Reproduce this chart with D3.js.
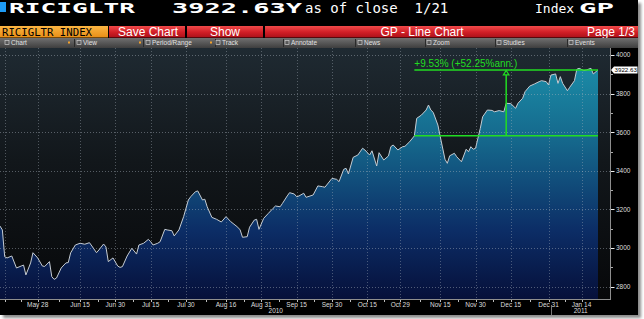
<html>
<head>
  <script type="text/javascript" src="https://cdn.jsdelivr.net/npm/d3@7"></script>
  <style>
  body { margin: 0; background: #fff; }
  svg { display: block; }
  </style>
</head>
<body>

<script type="text/javascript">
// RICIGLTR index close
var closes = [
  ["2010-05-12",3114],["2010-05-13",3094],["2010-05-14",2955],["2010-05-15",2949],["2010-05-17",2959],
  ["2010-05-19",2897],["2010-05-21",2907],["2010-05-22",2912],["2010-05-23",2861],["2010-05-25",2923],
  ["2010-05-26",2976],["2010-05-28",2949],["2010-05-30",2907],["2010-05-31",2905],["2010-06-02",2930],
  ["2010-06-03",2852],["2010-06-04",2838],["2010-06-05",2845],["2010-06-07",2897],["2010-06-09",2923],
  ["2010-06-10",2925],["2010-06-11",2975],["2010-06-13",3016],["2010-06-15",3025],["2010-06-17",3020],
  ["2010-06-19",3028],["2010-06-20",3011],["2010-06-22",2976],["2010-06-23",2990],["2010-06-25",3021],
  ["2010-06-26",3006],["2010-06-27",2930],["2010-06-29",2949],["2010-07-01",2907],["2010-07-02",2900],
  ["2010-07-03",2904],["2010-07-05",2959],["2010-07-07",2999],["2010-07-09",2969],["2010-07-10",3016],
  ["2010-07-12",3025],["2010-07-14",3045],["2010-07-15",3033],["2010-07-16",3016],["2010-07-18",3025],
  ["2010-07-19",3033],["2010-07-21",3097],["2010-07-22",3094],["2010-07-24",3090],["2010-07-25",3063],
  ["2010-07-27",3094],["2010-07-29",3163],["2010-07-31",3249],["2010-08-01",3266],["2010-08-03",3292],
  ["2010-08-04",3296],["2010-08-06",3249],["2010-08-07",3253],["2010-08-08",3214],["2010-08-10",3159],
  ["2010-08-12",3149],["2010-08-14",3135],["2010-08-16",3163],["2010-08-18",3137],["2010-08-21",3108],
  ["2010-08-22",3094],["2010-08-23",3056],["2010-08-25",3059],["2010-08-26",3108],["2010-08-28",3145],
  ["2010-08-29",3149],["2010-08-30",3097],["2010-09-01",3154],["2010-09-03",3180],["2010-09-05",3206],
  ["2010-09-06",3218],["2010-09-08",3214],["2010-09-09",3232],["2010-09-11",3270],["2010-09-12",3287],
  ["2010-09-14",3280],["2010-09-15",3266],["2010-09-16",3270],["2010-09-18",3284],["2010-09-19",3263],
  ["2010-09-22",3275],["2010-09-24",3322],["2010-09-26",3318],["2010-09-27",3315],["2010-09-30",3361],
  ["2010-10-02",3356],["2010-10-03",3344],["2010-10-05",3408],["2010-10-06",3413],["2010-10-07",3384],
  ["2010-10-09",3470],["2010-10-11",3482],["2010-10-13",3517],["2010-10-14",3508],["2010-10-16",3482],
  ["2010-10-17",3504],["2010-10-19",3425],["2010-10-20",3494],["2010-10-22",3456],["2010-10-24",3477],
  ["2010-10-25",3525],["2010-10-26",3534],["2010-10-28",3508],["2010-10-30",3525],["2010-10-31",3527],
  ["2010-11-02",3551],["2010-11-04",3581],["2010-11-05",3672],["2010-11-07",3689],["2010-11-09",3715],
  ["2010-11-10",3741],["2010-11-11",3715],["2010-11-12",3703],["2010-11-14",3637],["2010-11-15",3577],
  ["2010-11-17",3460],["2010-11-18",3439],["2010-11-19",3478],["2010-11-21",3491],["2010-11-22",3473],
  ["2010-11-24",3447],["2010-11-26",3512],["2010-11-27",3499],["2010-11-28",3525],["2010-11-29",3512],
  ["2010-11-30",3517],["2010-12-01",3569],["2010-12-02",3620],["2010-12-03",3680],["2010-12-05",3715],
  ["2010-12-07",3713],["2010-12-08",3706],["2010-12-10",3712],["2010-12-12",3706],["2010-12-13",3750],
  ["2010-12-15",3748],["2010-12-17",3724],["2010-12-18",3750],["2010-12-20",3776],["2010-12-21",3810],
  ["2010-12-23",3839],["2010-12-25",3850],["2010-12-27",3862],["2010-12-28",3867],["2010-12-30",3862],
  ["2010-12-31",3845],["2011-01-01",3896],["2011-01-03",3902],["2011-01-04",3853],["2011-01-05",3888],
  ["2011-01-06",3853],["2011-01-08",3815],["2011-01-09",3833],["2011-01-11",3867],["2011-01-12",3926],
  ["2011-01-13",3931],["2011-01-15",3919],["2011-01-16",3922],["2011-01-18",3931],["2011-01-19",3902],
  ["2011-01-21",3922.63]
];

var gridDates = ["2010-05-14","2010-05-28","2010-06-15","2010-06-30","2010-07-15","2010-07-30",
  "2010-08-16","2010-08-31","2010-09-15","2010-09-30","2010-10-15","2010-10-29","2010-11-15",
  "2010-11-30","2010-12-15","2010-12-31","2011-01-14"];
var xTickLabels = ["","May 28","Jun 15","Jun 30","Jul 15","Jul 30","Aug 16","Aug 31","Sep 15",
  "Sep 30","Oct 15","Oct 29","Nov 15","Nov 30","Dec 15","Dec 31","Jan 14"];
var yearLabels = ["2010","2011"];
var yearBreak = "2011-01-01";
var yTicks = [2800, 3000, 3200, 3400, 3600, 3800, 4000];
var yMinorTicks = [2900, 3100, 3300, 3500, 3700, 3900];

var changeDates = ["2010-11-04", "2011-01-21"];
var changeValues = [3581.37, 3922.63];
var changeLabel = "+9.53% (+52.25%ann.)";
var lastLabel = "3922.63";

var toolItems = ["Chart", "View", "Period/Range", "Track", "Annotate", "News", "Zoom", "Studies", "Events"];
var toolX = [11, 83, 152, 222, 291, 364, 433, 503, 575];
var toolSeps = [74, 143, 215, 283, 355, 425, 495, 567];
var toolDots = [68, 139, 210];

var parse = d3.timeParse("%Y-%m-%d");
var data = closes.map(function(d) { return {date: parse(d[0]), value: d[1]}; });

var W = 644, H = 319;
var panelW = 638, panelH = 315;
var plotTop = 48, plotBottom = 299, plotRight = 610;

var svg = d3.select("body").append("svg").attr("width", W).attr("height", H);
var defs = svg.append("defs");

function vGrad(id, y1, y2, stops) {
  var g = defs.append("linearGradient").attr("id", id)
    .attr("gradientUnits", "userSpaceOnUse")
    .attr("x1", 0).attr("x2", 0).attr("y1", y1).attr("y2", y2);
  stops.forEach(function(s) {
    g.append("stop").attr("offset", s[0]).attr("stop-color", s[1]);
  });
}
vGrad("bgGrad", plotTop, plotBottom, [[0, "#1f2a32"], [0.45, "#12171b"], [1, "#07080a"]]);
vGrad("areaGrad", 55, plotBottom, [[0, "#1c91ab"], [0.35, "#15688c"], [0.72, "#0c2d66"], [1, "#06103a"]]);
vGrad("orangeGrad", 26, 38, [[0, "#fbb543"], [1, "#e88d14"]]);
vGrad("redGrad", 26, 38, [[0, "#f04a4a"], [0.5, "#d21f27"], [1, "#a80f18"]]);
vGrad("toolGrad", 38, 48, [[0, "#707070"], [1, "#3e3e3e"]]);

var blur = defs.append("filter").attr("id", "shadow").attr("x", "-5%").attr("y", "-5%")
  .attr("width", "110%").attr("height", "110%");
blur.append("feGaussianBlur").attr("stdDeviation", 1.6);

defs.append("clipPath").attr("id", "plotClip")
  .append("rect").attr("x", 0).attr("y", plotTop).attr("width", plotRight).attr("height", plotBottom - plotTop);

// panel + drop shadow
svg.append("rect").attr("x", 3).attr("y", 3).attr("width", panelW).attr("height", panelH)
  .attr("fill", "#8a8a8a").attr("filter", "url(#shadow)");
svg.append("rect").attr("x", 0).attr("y", 0).attr("width", panelW).attr("height", panelH).attr("fill", "#000");

// title line
svg.append("rect").attr("x", 0).attr("y", 2).attr("width", 6).attr("height", 10).attr("fill", "#1e9bf5");
var mono = "'DejaVu Sans Mono', monospace";
svg.append("text").attr("x", 9).attr("y", 12.5).attr("font-family", mono).attr("font-weight", "bold")
  .attr("font-size", 14).attr("fill", "#fff").attr("textLength", 126).attr("lengthAdjust", "spacingAndGlyphs")
  .text("RICIGLTR");
svg.append("text").attr("x", 172).attr("y", 12.5).attr("font-family", mono).attr("font-weight", "bold")
  .attr("font-size", 14).attr("fill", "#fff").attr("textLength", 130).attr("lengthAdjust", "spacingAndGlyphs")
  .text("3922.63Y");
svg.append("text").attr("x", 305).attr("y", 12.5).attr("font-family", mono)
  .attr("font-size", 14).attr("fill", "#fff").attr("xml:space", "preserve").style("white-space", "pre")
  .text("as of close  1/21");
svg.append("text").attr("x", 535).attr("y", 12.5).attr("font-family", mono)
  .attr("font-size", 13).attr("fill", "#fff").text("Index");
svg.append("text").attr("x", 579).attr("y", 12.5).attr("font-family", mono).attr("font-weight", "bold")
  .attr("font-size", 14).attr("fill", "#fff").attr("textLength", 35).attr("lengthAdjust", "spacingAndGlyphs")
  .text("GP");

// orange / red menu bar
svg.append("rect").attr("x", 0).attr("y", 26).attr("width", 108).attr("height", 11.5).attr("fill", "url(#orangeGrad)");
svg.append("text").attr("x", 2).attr("y", 35.5).attr("font-family", mono).attr("font-size", 11)
  .attr("fill", "#000").attr("textLength", 90).attr("lengthAdjust", "spacingAndGlyphs").text("RICIGLTR INDEX");
var redBoxes = [[109, 185], [187, 263], [265, panelW]];
svg.selectAll("rect.red").data(redBoxes).enter().append("rect").attr("class", "red")
  .attr("x", function(d) { return d[0]; }).attr("y", 26)
  .attr("width", function(d) { return d[1] - d[0]; }).attr("height", 11.5)
  .attr("fill", "url(#redGrad)");
var sans = "'Liberation Sans', Arial, sans-serif";
[["Save Chart", 118, "start"], ["Show", 210, "start"], ["GP - Line Chart", 422, "middle"], ["Page 1/3", 635, "end"]]
  .forEach(function(t) {
    svg.append("text").attr("x", t[1]).attr("y", 35.5).attr("text-anchor", t[2])
      .attr("font-family", sans).attr("font-size", 12).attr("fill", "#fff").text(t[0]);
  });

// toolbar
svg.append("rect").attr("x", 0).attr("y", 38).attr("width", panelW).attr("height", 10).attr("fill", "url(#toolGrad)");
svg.selectAll("line.tsep").data(toolSeps).enter().append("line").attr("class", "tsep")
  .attr("x1", function(d) { return d + 0.5; }).attr("x2", function(d) { return d + 0.5; })
  .attr("y1", 39).attr("y2", 47).attr("stroke", "#2a2a2a");
svg.selectAll("rect.tdot").data(toolDots).enter().append("rect").attr("class", "tdot")
  .attr("x", function(d) { return d; }).attr("y", 41.5).attr("width", 2).attr("height", 2).attr("fill", "#f3a22c");
svg.selectAll("rect.ticon").data(toolX).enter().append("rect").attr("class", "ticon")
  .attr("x", function(d) { return d - 6; }).attr("y", 40.5).attr("width", 4).attr("height", 4)
  .attr("fill", "none").attr("stroke", "#cfcfcf").attr("stroke-width", 0.7);
svg.selectAll("text.tool").data(toolItems).enter().append("text").attr("class", "tool")
  .attr("x", function(d, i) { return toolX[i]; }).attr("y", 45.3)
  .attr("font-family", sans).attr("font-size", 6.5).attr("fill", "#e2e2e2").text(function(d) { return d; });

// scales
var x = d3.scaleTime().domain([parse("2010-05-12"), parse("2011-01-21")]).range([0, 598]);
var y = d3.scaleLinear().domain([2800, 4000]).range([286.7, 55]);

// plot background
svg.append("rect").attr("x", 0).attr("y", plotTop).attr("width", plotRight).attr("height", plotBottom - plotTop)
  .attr("fill", "url(#bgGrad)");

var plot = svg.append("g").attr("clip-path", "url(#plotClip)");

var area = d3.area().x(function(d) { return x(d.date); })
  .y0(plotBottom).y1(function(d) { return y(d.value); });
var line = d3.line().x(function(d) { return x(d.date); }).y(function(d) { return y(d.value); });

plot.append("path").datum(data).attr("d", area).attr("fill", "url(#areaGrad)");
plot.append("path").datum(data).attr("d", line).attr("fill", "none")
  .attr("stroke", "#c5ccd3").attr("stroke-width", 1);

// dotted grid on top
plot.selectAll("line.hgrid").data(yTicks).enter().append("line").attr("class", "hgrid")
  .attr("x1", 0).attr("x2", plotRight)
  .attr("y1", function(d) { return Math.round(y(d)) + 0.5; }).attr("y2", function(d) { return Math.round(y(d)) + 0.5; })
  .attr("stroke", "rgba(170,180,190,0.45)").attr("stroke-dasharray", "1,2");
plot.selectAll("line.vgrid").data(gridDates).enter().append("line").attr("class", "vgrid")
  .attr("x1", function(d) { return Math.round(x(parse(d))) + 0.5; })
  .attr("x2", function(d) { return Math.round(x(parse(d))) + 0.5; })
  .attr("y1", plotTop).attr("y2", plotBottom)
  .attr("stroke", "rgba(170,180,190,0.4)").attr("stroke-dasharray", "1,2");

// % change annotation
var green = "#22dd22";
var ax0 = x(parse(changeDates[0])), ax1 = x(parse(changeDates[1]));
var ay0 = y(changeValues[0]), ay1 = y(changeValues[1]);
var amid = (ax0 + ax1) / 2;
var ann = svg.append("g").attr("stroke", green).attr("stroke-width", 1.5).attr("fill", "none");
ann.append("line").attr("x1", ax0).attr("x2", ax1).attr("y1", ay0).attr("y2", ay0);
ann.append("line").attr("x1", ax0).attr("x2", ax1).attr("y1", ay1).attr("y2", ay1);
ann.append("line").attr("x1", amid).attr("x2", amid).attr("y1", ay0).attr("y2", ay1 + 5);
ann.append("path").attr("stroke-width", 1.2)
  .attr("d", "M" + amid + "," + (ay1 + 0.5) + "L" + (amid - 2.8) + "," + (ay1 + 5) + "L" + (amid + 2.8) + "," + (ay1 + 5) + "Z");
svg.append("text").attr("x", ax0).attr("y", ay1 - 2.5).attr("font-family", sans).attr("font-size", 10)
  .attr("fill", green).text(changeLabel);

// right axis
svg.append("line").attr("x1", plotRight + 0.5).attr("x2", plotRight + 0.5).attr("y1", plotTop).attr("y2", plotBottom)
  .attr("stroke", "#8e8e8e");
svg.selectAll("line.ytick").data(yTicks).enter().append("line").attr("class", "ytick")
  .attr("x1", plotRight + 1).attr("x2", plotRight + 4.5)
  .attr("y1", function(d) { return Math.round(y(d)) + 0.5; }).attr("y2", function(d) { return Math.round(y(d)) + 0.5; })
  .attr("stroke", "#eee");
svg.selectAll("line.ymin").data(yMinorTicks).enter().append("line").attr("class", "ymin")
  .attr("x1", plotRight + 1).attr("x2", plotRight + 3)
  .attr("y1", function(d) { return Math.round(y(d)) + 0.5; }).attr("y2", function(d) { return Math.round(y(d)) + 0.5; })
  .attr("stroke", "#aaa");
svg.selectAll("text.ylab").data(yTicks).enter().append("text").attr("class", "ylab")
  .attr("x", plotRight + 6).attr("y", function(d) { return y(d); }).attr("dy", "0.35em")
  .attr("font-family", sans).attr("font-size", 6.5).attr("fill", "#dedede")
  .text(function(d) { return d; });

// last value tag
var ly = y(changeValues[1]);
svg.append("path").attr("d", "M" + (plotRight + 1) + "," + ly + "L" + (plotRight + 4) + "," + (ly - 3.5) +
  "L" + (panelW - 0.5) + "," + (ly - 3.5) + "L" + (panelW - 0.5) + "," + (ly + 3.5) + "L" + (plotRight + 4) + "," + (ly + 3.5) + "Z")
  .attr("fill", "#fff");
svg.append("text").attr("x", plotRight + 4.5).attr("y", ly).attr("dy", "0.35em")
  .attr("font-family", sans).attr("font-size", 6.2).attr("fill", "#000").text(lastLabel);

// bottom axis
svg.append("line").attr("x1", 0).attr("x2", plotRight + 1).attr("y1", plotBottom + 0.5).attr("y2", plotBottom + 0.5)
  .attr("stroke", "#8e8e8e");
var tickDates = [];
gridDates.forEach(function(d, i) {
  var t = parse(d);
  tickDates.push(t);
  if (i < gridDates.length - 1) {
    var n = parse(gridDates[i + 1]);
    tickDates.push(new Date((t.getTime() + n.getTime()) / 2));
  }
});
svg.selectAll("line.xtick").data(tickDates).enter().append("line").attr("class", "xtick")
  .attr("x1", function(d) { return Math.round(x(d)) + 0.5; }).attr("x2", function(d) { return Math.round(x(d)) + 0.5; })
  .attr("y1", plotBottom + 1).attr("y2", plotBottom + 3).attr("stroke", "#bbb");
svg.selectAll("text.xlab").data(gridDates).enter().append("text").attr("class", "xlab")
  .attr("x", function(d) { return x(parse(d)); }).attr("y", 306.5).attr("text-anchor", "middle")
  .attr("font-family", sans).attr("font-size", 6.5).attr("fill", "#dedede")
  .text(function(d, i) { return xTickLabels[i]; });

var yb = Math.round(x(parse(yearBreak))) + 0.5;
svg.append("line").attr("x1", yb).attr("x2", yb).attr("y1", 305).attr("y2", panelH).attr("stroke", "#777");
var yearCenters = [yb / 2, (yb + plotRight) / 2];
svg.selectAll("text.year").data(yearLabels).enter().append("text").attr("class", "year")
  .attr("x", function(d, i) { return yearCenters[i]; }).attr("y", 313.3).attr("text-anchor", "middle")
  .attr("font-family", sans).attr("font-size", 6.5).attr("fill", "#dedede")
  .text(function(d) { return d; });
</script>

</body>
</html>
